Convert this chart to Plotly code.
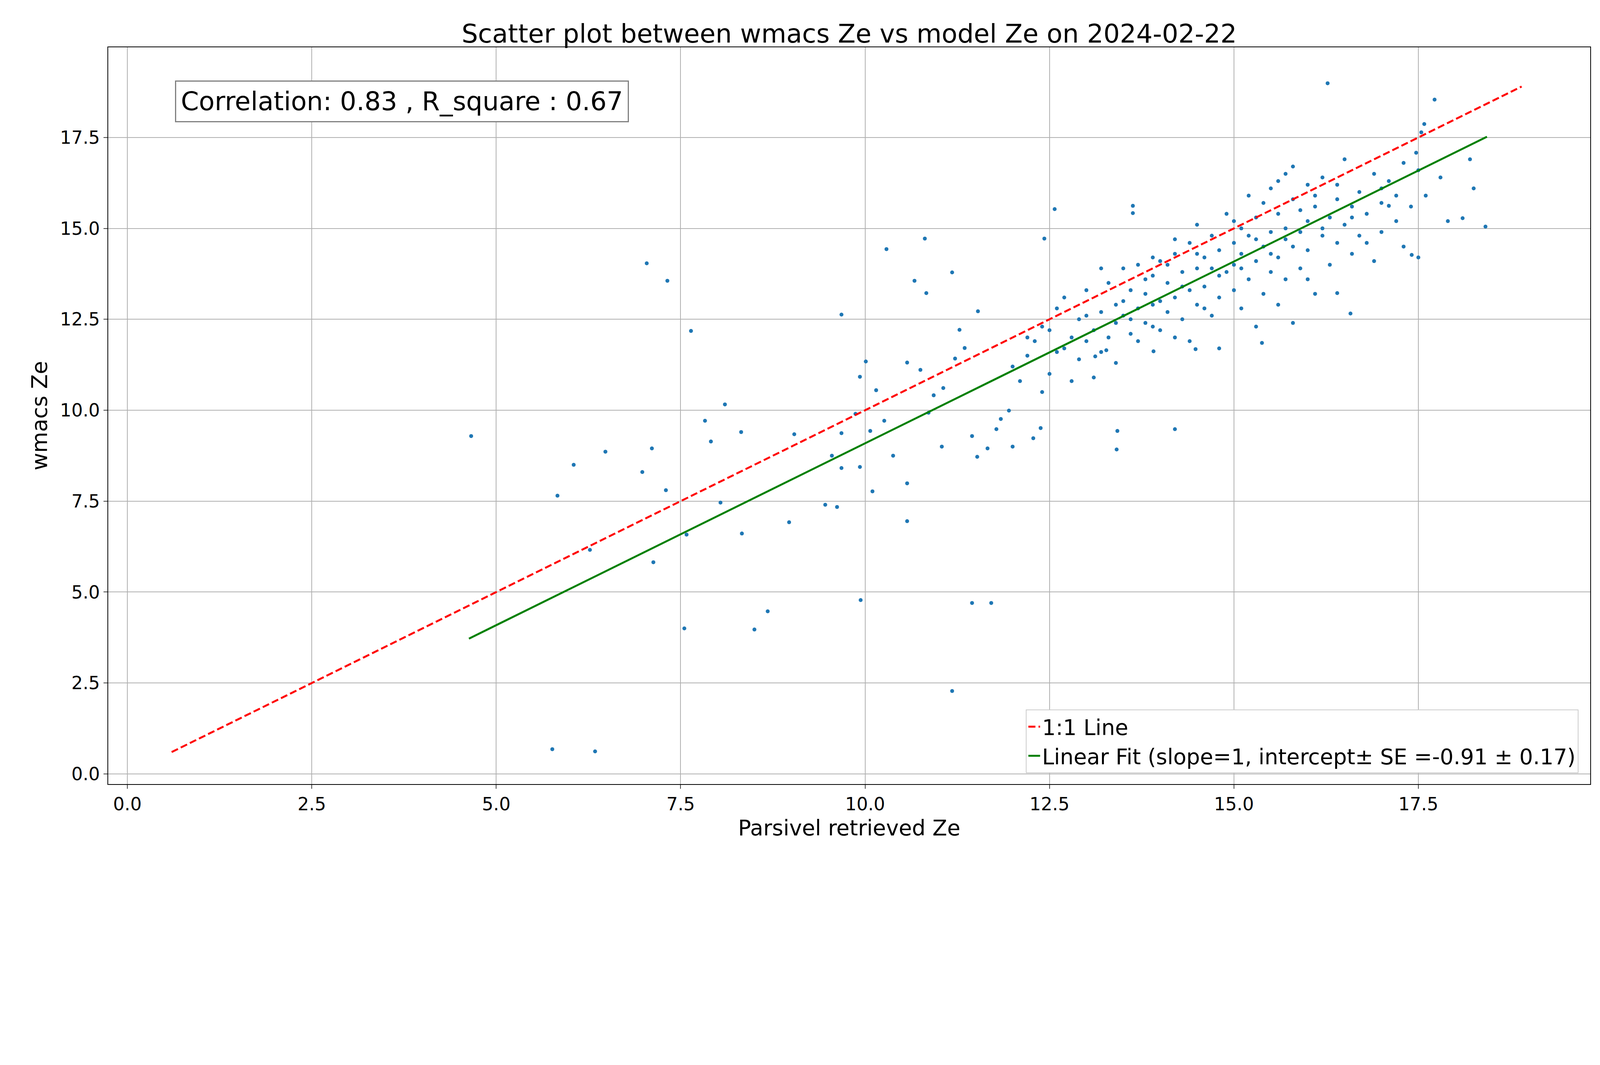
import numpy as np
import plotly.graph_objects as go

# outliers / sparse points
pts = [
    (4.66, 9.29), (5.83, 7.65), (6.05, 8.5), (6.48, 8.86), (5.76, 0.68), (6.34, 0.62),
    (6.27, 6.16), (6.98, 8.3), (7.11, 8.95), (7.04, 14.04), (7.32, 13.56), (7.64, 12.18),
    (7.13, 5.82), (7.3, 7.8), (7.58, 6.58), (7.55, 4.0), (8.1, 10.16), (7.83, 9.71),
    (7.91, 9.14), (8.04, 7.46), (8.32, 9.4), (8.33, 6.61), (8.5, 3.97), (8.68, 4.47),
    (9.04, 9.34), (8.97, 6.92), (9.46, 7.4), (9.62, 7.34), (9.55, 8.75), (9.68, 9.37),
    (9.68, 8.41), (9.68, 12.63), (9.87, 9.9), (9.93, 10.92), (10.01, 11.34), (9.93, 8.44),
    (9.94, 4.78), (10.07, 9.43), (10.1, 7.77), (10.15, 10.55), (10.26, 9.71), (10.29, 14.43),
    (10.38, 8.75), (10.57, 6.95), (10.57, 7.99), (10.57, 11.31), (10.67, 13.56), (10.75, 11.11),
    (10.81, 14.72), (10.83, 13.22), (10.86, 9.93), (10.93, 10.41), (11.06, 10.61), (11.04, 9.0),
    (11.18, 13.79), (11.22, 11.42), (11.28, 12.21), (11.35, 11.71), (11.45, 9.29), (11.53, 12.72),
    (11.45, 4.7), (11.71, 4.7), (11.52, 8.72), (11.66, 8.95), (11.78, 9.48), (11.84, 9.76),
    (11.95, 9.99), (12.0, 9.0), (12.28, 9.23), (12.43, 14.72), (12.57, 15.53), (12.38, 9.51),
    (11.18, 2.28), (13.42, 9.43), (13.41, 8.92), (14.2, 9.48), (13.63, 15.62), (13.63, 15.42),
    (16.27, 18.99), (18.41, 15.05), (18.25, 16.1), (18.1, 15.28), (17.72, 18.54), (17.58, 17.87),
    (17.54, 17.64), (17.47, 17.08), (17.1, 15.62), (17.41, 14.27), (16.4, 13.22), (16.58, 12.66),
    (15.38, 11.85), (14.48, 11.68), (13.91, 11.62), (13.27, 11.65), (13.12, 11.48),
]
# dense cluster
pts += [
    (12.0, 11.2), (12.1, 10.8), (12.2, 11.5), (12.3, 11.9), (12.4, 10.5), (12.4, 12.3), (12.5, 11.0),
    (12.6, 12.8), (12.6, 11.6), (12.7, 13.1), (12.8, 12.0), (12.8, 10.8), (12.9, 11.4), (12.9, 12.5),
    (13.0, 13.3), (13.0, 11.9), (13.1, 12.2), (13.1, 10.9), (13.2, 12.7), (13.2, 11.6), (13.3, 13.5),
    (13.3, 12.0), (13.4, 12.4), (13.4, 11.3), (13.5, 13.0), (13.5, 12.6), (13.5, 13.9), (13.6, 12.1),
    (13.6, 13.3), (13.7, 12.8), (13.7, 14.0), (13.7, 11.9), (13.8, 13.2), (13.8, 12.4), (13.9, 13.7),
    (13.9, 12.9), (14.0, 14.1), (14.0, 13.0), (14.0, 12.2), (14.1, 13.5), (14.1, 12.7), (14.2, 14.3),
    (14.2, 13.1), (14.2, 12.0), (14.3, 13.8), (14.3, 12.5), (14.4, 14.6), (14.4, 13.3), (14.4, 11.9),
    (14.5, 13.9), (14.5, 12.9), (14.5, 15.1), (14.6, 14.2), (14.6, 13.4), (14.7, 14.8), (14.7, 12.6),
    (14.7, 13.9), (14.8, 14.4), (14.8, 13.1), (14.8, 11.7), (14.9, 15.4), (14.9, 13.8), (15.0, 14.6),
    (15.0, 13.3), (15.0, 14.0), (15.1, 15.0), (15.1, 12.8), (15.1, 14.3), (15.2, 15.9), (15.2, 13.6),
    (15.2, 14.8), (15.3, 14.1), (15.3, 12.3), (15.3, 15.3), (15.4, 14.5), (15.4, 13.2), (15.5, 16.1),
    (15.5, 14.9), (15.5, 13.8), (15.6, 15.4), (15.6, 14.2), (15.6, 12.9), (15.7, 16.5), (15.7, 15.0),
    (15.7, 13.6), (15.8, 14.5), (15.8, 15.8), (15.8, 12.4), (15.9, 14.9), (15.9, 13.9), (16.0, 16.2),
    (16.0, 15.2), (16.0, 14.4), (16.1, 15.6), (16.1, 13.2), (16.2, 14.8), (16.2, 16.4), (16.3, 15.3),
    (16.3, 14.0), (16.4, 15.8), (16.4, 14.6), (16.5, 16.9), (16.5, 15.1), (16.6, 14.3), (16.6, 15.6),
    (16.7, 16.0), (16.7, 14.8), (16.8, 15.4), (16.9, 16.5), (16.9, 14.1), (17.0, 15.7), (17.0, 14.9),
    (17.1, 16.3), (17.2, 15.2), (17.3, 14.5), (17.3, 16.8), (17.4, 15.6), (17.5, 16.6), (17.5, 14.2),
    (17.6, 15.9), (17.8, 16.4), (17.9, 15.2), (18.2, 16.9),
    (12.2, 12.0), (12.5, 12.2), (12.7, 11.7), (13.0, 12.6), (13.2, 13.9), (13.4, 12.9), (13.6, 12.5),
    (13.8, 13.6), (13.9, 12.3), (14.1, 14.0), (14.3, 13.4), (14.5, 14.3), (14.6, 12.8), (14.8, 13.7),
    (15.0, 15.2), (15.1, 13.9), (15.3, 14.7), (15.4, 15.7), (15.5, 14.3), (15.7, 14.7), (15.9, 15.5),
    (16.0, 13.6), (16.2, 15.0), (16.4, 16.2), (16.6, 15.3), (16.8, 14.6), (17.0, 16.1), (17.2, 15.9),
    (14.2, 14.7), (13.9, 14.2), (15.6, 16.3), (16.1, 15.9), (15.8, 16.7),
]
x = np.array([p[0] for p in pts])
y = np.array([p[1] for p in pts])

fig = go.Figure()
fig.add_trace(go.Scatter(x=x, y=y, mode="markers", marker=dict(color="#1f77b4", size=10),
                         showlegend=False))
fig.add_trace(go.Scatter(x=[0.6, 18.9], y=[0.6, 18.9], mode="lines", name="1:1 Line",
                         line=dict(color="red", width=5, dash="18px,8px")))
fig.add_trace(go.Scatter(x=[4.63, 18.43], y=[4.63 - 0.91, 18.43 - 0.91], mode="lines",
                         name="Linear Fit (slope=1, intercept\u00b1 SE =-0.91 \u00b1 0.17)",
                         line=dict(color="green", width=5)))

axis = dict(showline=True, linecolor="black", linewidth=2, mirror=True, ticks="outside",
            ticklen=10, tickwidth=2, showgrid=True, gridcolor="#b0b0b0", gridwidth=2,
            zeroline=False, tickfont=dict(size=46, color="black"), dtick=2.5, tickformat=".1f")
fig.update_layout(
    autosize=True, plot_bgcolor="white", paper_bgcolor="white",
    font=dict(family="DejaVu Sans", color="black"),
    title=dict(text="Scatter plot between wmacs Ze vs model Ze on 2024-02-22", x=0.5,
               xref="paper", y=0.975, xanchor="center", font=dict(size=66)),
    margin=dict(l=269, r=33, t=113, b=213),
    xaxis=dict(axis, range=[-0.26, 19.83],
               title=dict(text="Parsivel retrieved Ze", font=dict(size=55))),
    yaxis=dict(axis, range=[-0.28, 19.98],
               title=dict(text="wmacs Ze", font=dict(size=55))),
    legend=dict(x=0.992, y=0.015, xanchor="right", yanchor="bottom", bgcolor="white",
                bordercolor="#cccccc", borderwidth=2, font=dict(size=55)),
    annotations=[dict(text="Correlation: 0.83 , R_square : 0.67", xref="paper", yref="paper",
                      x=0.045, y=0.955, xanchor="left", yanchor="top", showarrow=False,
                      font=dict(size=66), bordercolor="gray", borderwidth=3, borderpad=12,
                      bgcolor="white")],
)
fig.write_html("out.html", default_width="100vw", default_height="54vw",
               config={"responsive": True})
